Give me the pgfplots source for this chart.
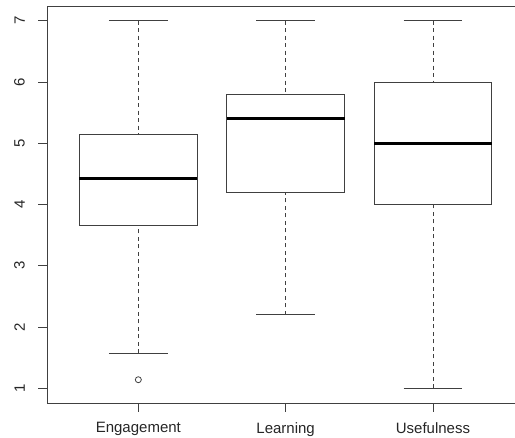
\documentclass[border=0pt]{standalone}
\usepackage{pgfplots}
\pgfplotsset{compat=1.18}
\usepgfplotslibrary{statistics}
\usepackage{fontspec}
\setmainfont{Liberation Sans}

\definecolor{rline}{gray}{0.25}

% whiskers: dashed stem from the whisker end to the quartile, solid cap
\pgfplotsset{
  boxplot/draw/lower whisker/.code={%
    \draw[rline, line width=0.9pt, dash pattern=on 4pt off 3.5pt]
      (boxplot box cs:\pgfplotsboxplotvalue{lower whisker},0.5) --
      (boxplot box cs:\pgfplotsboxplotvalue{lower quartile},0.5);
    \draw[rline, line width=0.9pt]
      (boxplot whisker cs:\pgfplotsboxplotvalue{lower whisker},0) --
      (boxplot whisker cs:\pgfplotsboxplotvalue{lower whisker},1);
  },
  boxplot/draw/upper whisker/.code={%
    \draw[rline, line width=0.9pt, dash pattern=on 4pt off 3.5pt]
      (boxplot box cs:\pgfplotsboxplotvalue{upper whisker},0.5) --
      (boxplot box cs:\pgfplotsboxplotvalue{upper quartile},0.5);
    \draw[rline, line width=0.9pt]
      (boxplot whisker cs:\pgfplotsboxplotvalue{upper whisker},0) --
      (boxplot whisker cs:\pgfplotsboxplotvalue{upper whisker},1);
  },
}

\begin{document}
\begin{tikzpicture}
\begin{axis}[
  scale only axis,
  width=477.3pt, height=397pt,
  xmin=0.38, xmax=3.62,
  ymin=0.76, ymax=7.24,
  axis line style={rline, line width=0.9pt},
  tick style={rline, line width=0.9pt},
  tick align=outside,
  tick pos=left,
  major tick length=8.7pt,
  xtick={1,2,3},
  xticklabels={Engagement,Learning,Usefulness},
  ytick={1,2,3,4,5,6,7},
  /pgf/number format/assume math mode=true,
  tick label style={font=\fontsize{15}{18}\selectfont, text=black!85},
  % rotated labels: yshift in the node's own frame moves them leftwards
  yticklabel style={rotate=90, anchor=south, yshift=10pt},
  xticklabel style={anchor=north, yshift=-7pt},
  boxplot/draw direction=y,
  boxplot/box extend=0.8,
  boxplot/whisker extend=0.4,
  boxplot/every box/.style={rline, line width=0.9pt},
  boxplot/every median/.style={black, line width=3pt},
]
\addplot[rline, boxplot prepared={draw position=1,
  lower whisker=1.57, lower quartile=3.65, median=4.43,
  upper quartile=5.14, upper whisker=7}] coordinates {};
\addplot[rline, boxplot prepared={draw position=2,
  lower whisker=2.2, lower quartile=4.2, median=5.4,
  upper quartile=5.8, upper whisker=7}] coordinates {};
\addplot[rline, boxplot prepared={draw position=3,
  lower whisker=1, lower quartile=4, median=5,
  upper quartile=6, upper whisker=7}] coordinates {};
% the single low outlier of Engagement
\addplot[only marks, mark=o, mark size=3pt, rline, line width=0.8pt]
  coordinates {(1,1.14)};
\end{axis}
\pgfresetboundingbox
\useasboundingbox (-47pt,-35pt) rectangle (468pt,403pt);
\end{tikzpicture}
\end{document}
